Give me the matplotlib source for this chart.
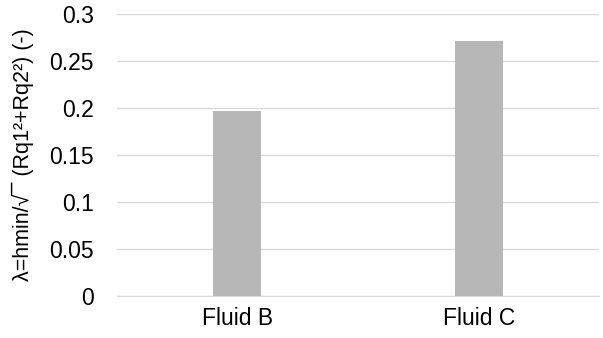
import matplotlib
matplotlib.use('Agg')
import matplotlib.pyplot as plt

plt.rcParams['font.family'] = ['Liberation Sans', 'DejaVu Sans']

fluids = ['Fluid B', 'Fluid C']
lam = [0.196, 0.271]
y_ticks = [0, 0.05, 0.1, 0.15, 0.2, 0.25, 0.3]
y_labels = ['0', '0.05', '0.1', '0.15', '0.2', '0.25', '0.3']

fig = plt.figure(figsize=(6.03, 3.38), dpi=100)
ax = fig.add_axes([0.1934, 0.1251, 0.8006, 0.8344])

ax.bar(range(len(fluids)), lam, width=0.2, color='#b7b7b7', zorder=3)

ax.set_xlim(-0.5, len(fluids) - 0.5)
ax.set_ylim(0, 0.3)
ax.set_xticks(range(len(fluids)))
ax.set_xticklabels(fluids)
ax.set_yticks(y_ticks)
ax.set_yticklabels(y_labels)

ax.grid(axis='y', color='#d9d9d9', linewidth=1, zorder=0)
for s in ['top', 'right', 'left']:
    ax.spines[s].set_visible(False)
ax.spines['bottom'].set_color('#d9d9d9')
ax.tick_params(axis='y', length=0, pad=16.5, labelsize=16.5)
ax.tick_params(axis='x', length=0, pad=8, labelsize=16.5)

ax.set_ylabel('λ=hmin/√\u00af (Rq1²+Rq2²) (-)', fontsize=15.5)
ax.yaxis.set_label_coords(-0.172, 0.5)

fig.savefig('out.png', dpi=100)
